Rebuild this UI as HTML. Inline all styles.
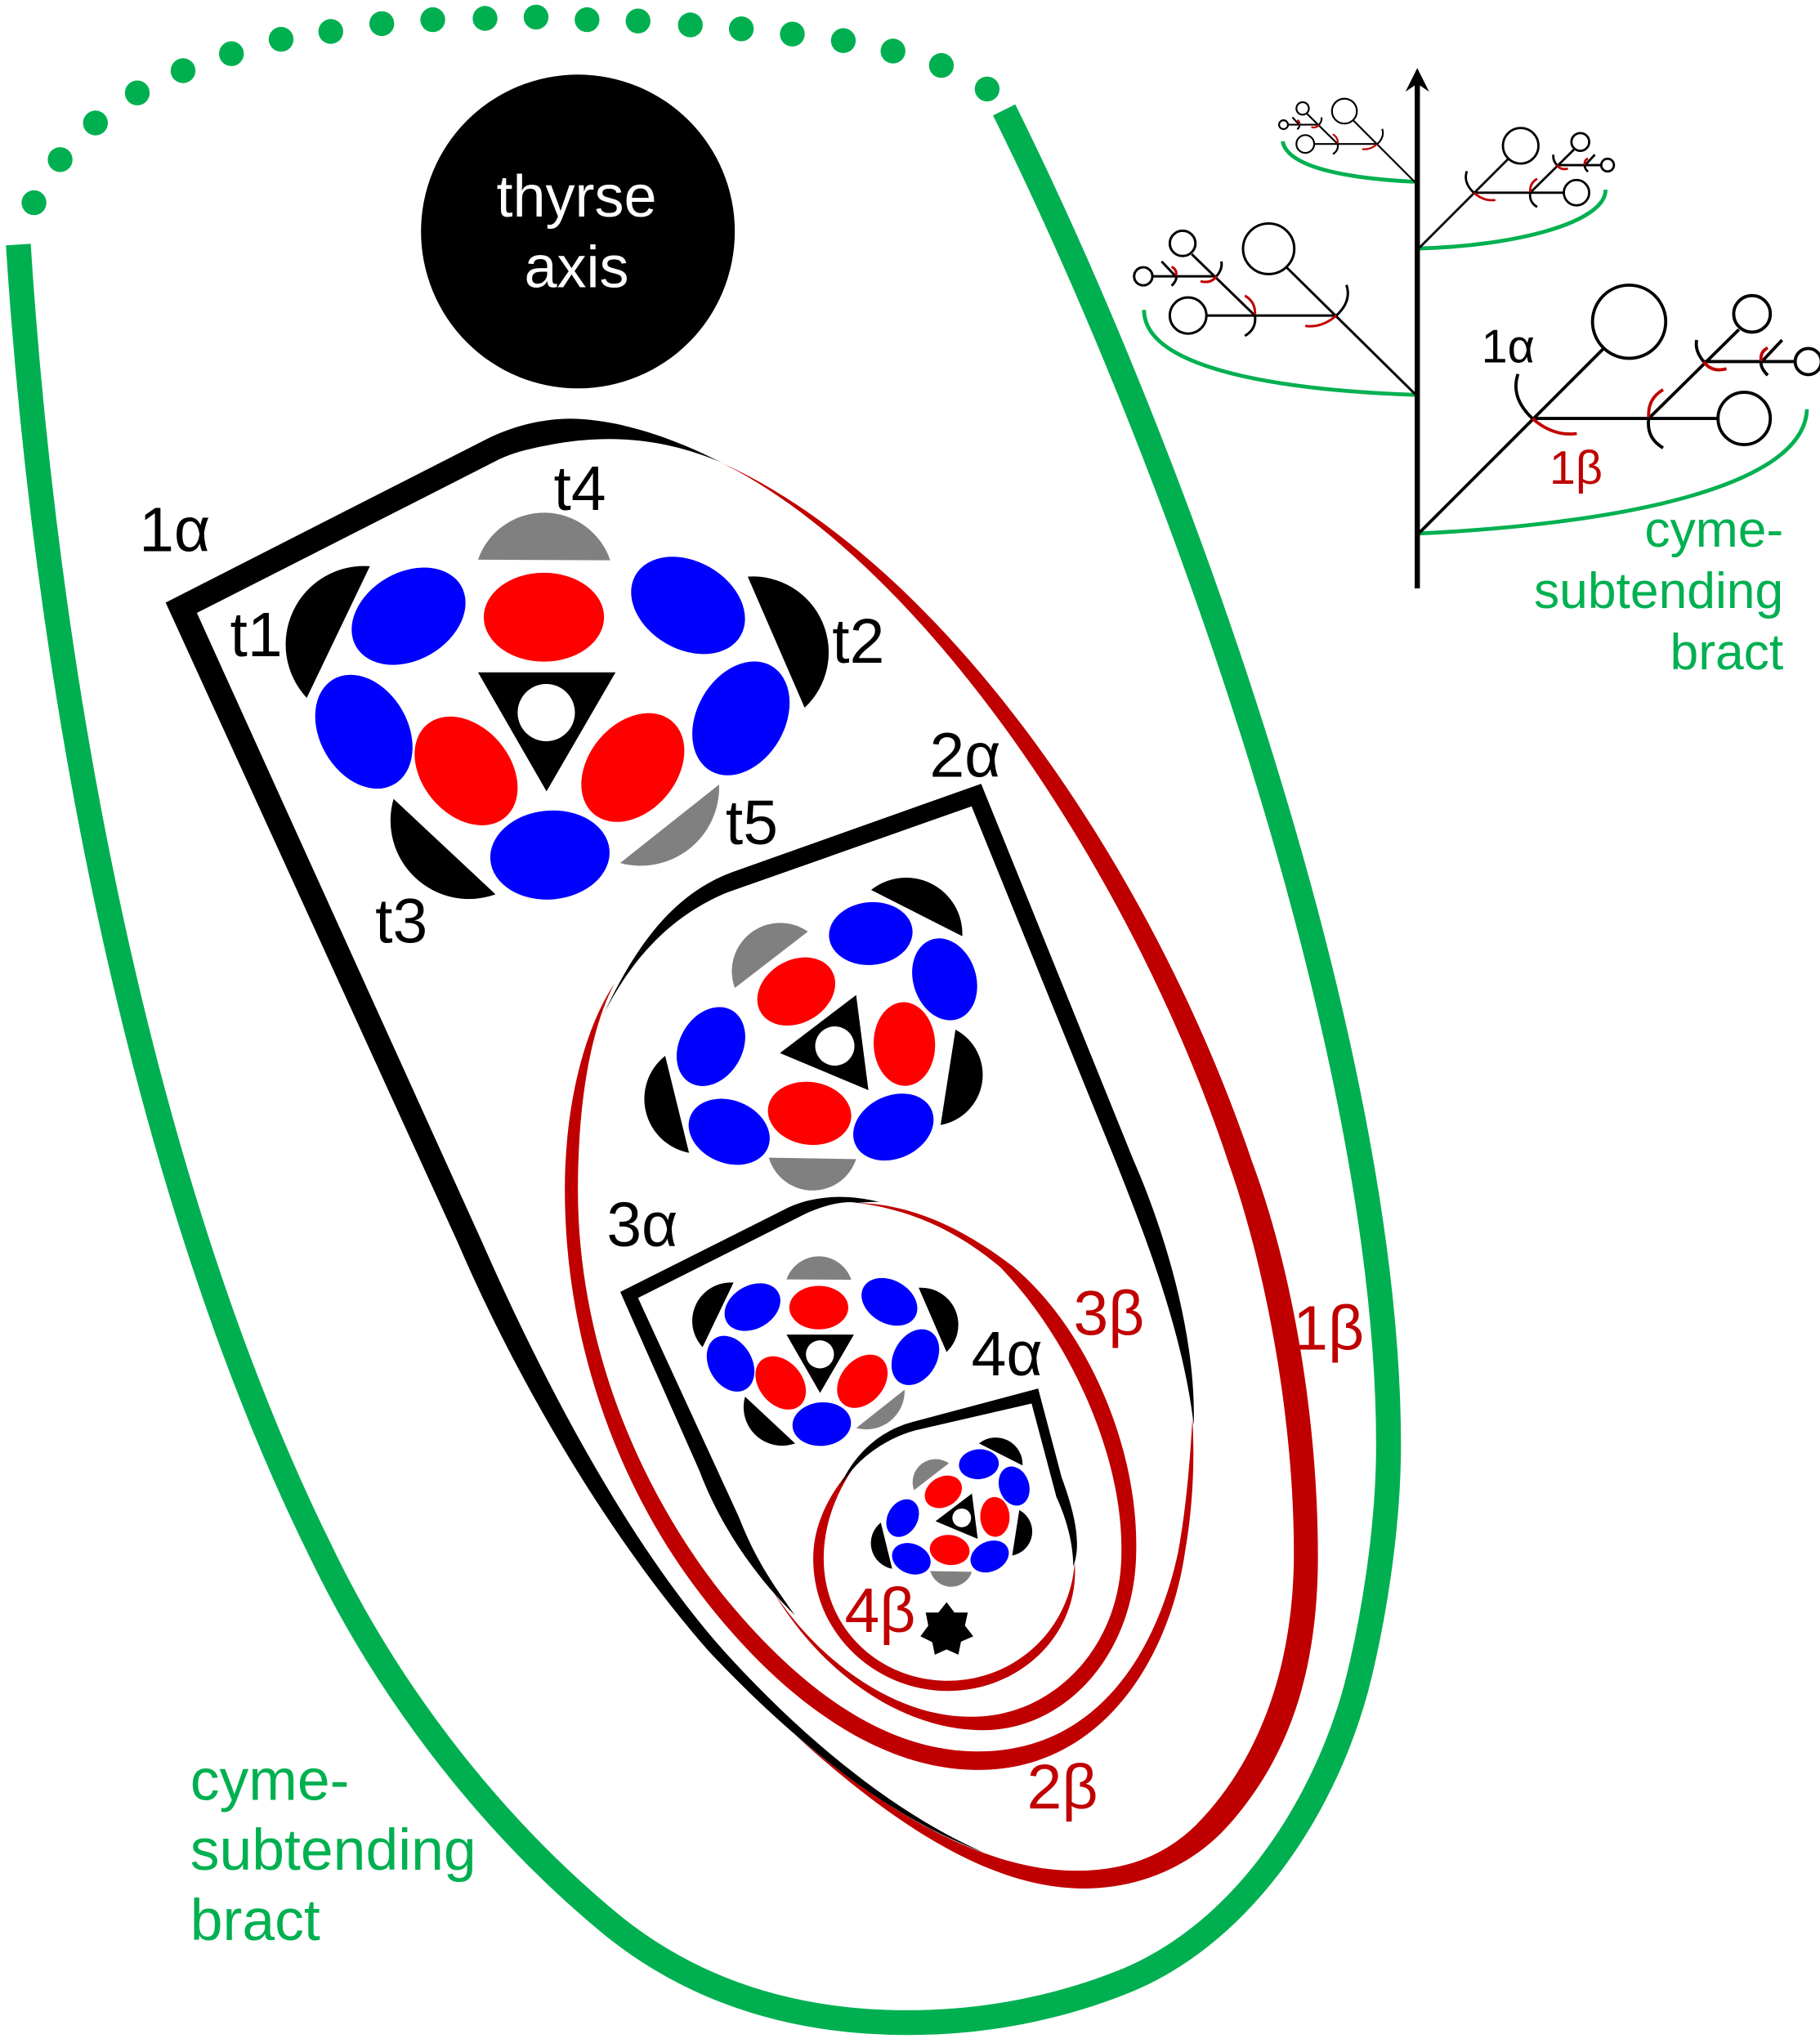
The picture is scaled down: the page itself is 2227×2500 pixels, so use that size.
<!DOCTYPE html>
<html><head><meta charset="utf-8"><style>
html,body{margin:0;padding:0;background:#fff}
svg{display:block}
text{font-family:"Liberation Sans",sans-serif}
</style></head><body>
<svg xmlns="http://www.w3.org/2000/svg" width="2227" height="2500" viewBox="0 0 1392 1562.5">
<rect width="1392" height="1562.5" fill="#fff"/>
<defs>
<g id="fa">
<path d="M282.900,433 A60,60 0 0 0 234.600,533.750Z" fill="#000"/>
<path d="M571.900,441 A58,58 0 0 1 615.400,541.250Z" fill="#000"/>
<path d="M301,611 A60,60 0 0 0 379,684Z" fill="#000"/>
<path d="M365.600,428 A53.400,53.400 0 0 1 466.700,428.500Z" fill="#808080"/>
<path d="M474.300,660 A60,60 0 0 0 550,600Z" fill="#808080"/>
<ellipse cx="416" cy="472" rx="46" ry="34" fill="#f00"/>
<ellipse cx="356.500" cy="589.600" rx="46.400" ry="33.600" transform="rotate(50 356.500 589.600)" fill="#f00"/>
<ellipse cx="484" cy="587" rx="46.400" ry="33.600" transform="rotate(-50 484 587)" fill="#f00"/>
<ellipse cx="312.500" cy="471.250" rx="46.400" ry="33.600" transform="rotate(-30 312.500 471.250)" fill="#00f"/>
<ellipse cx="526.250" cy="463" rx="46.400" ry="33.600" transform="rotate(30 526.250 463)" fill="#00f"/>
<ellipse cx="278.300" cy="559.600" rx="46.400" ry="33.600" transform="rotate(60 278.300 559.600)" fill="#00f"/>
<ellipse cx="566.700" cy="549.400" rx="46.400" ry="33.600" transform="rotate(-60 566.700 549.400)" fill="#00f"/>
<ellipse cx="420.600" cy="653.900" rx="45.700" ry="34" transform="rotate(-5 420.600 653.900)" fill="#00f"/>
<polygon points="365.600,514.200 470.800,514.200 418,605.200" fill="#000"/>
<circle cx="417.800" cy="545" r="21.900" fill="#fff"/>
</g>
<g id="fb">
<path d="M666.250,680.600 A43,43 0 0 1 736,716Z" fill="#000"/>
<path d="M508.750,807.500 A42,42 0 0 0 527,881.700Z" fill="#000"/>
<path d="M730.800,787.500 A39,39 0 0 1 719.400,860.400Z" fill="#000"/>
<path d="M617.900,712.500 A37,37 0 0 0 562,755.600Z" fill="#808080"/>
<path d="M654.800,886.500 A35,35 0 0 1 588,885.400Z" fill="#808080"/>
<ellipse cx="609" cy="758.300" rx="31.500" ry="24" transform="rotate(-30 609 758.300)" fill="#f00"/>
<ellipse cx="691.700" cy="798.500" rx="32" ry="23.500" transform="rotate(88 691.700 798.500)" fill="#f00"/>
<ellipse cx="619.200" cy="851.500" rx="32" ry="24" transform="rotate(8 619.200 851.500)" fill="#f00"/>
<ellipse cx="666" cy="714" rx="32" ry="24" transform="rotate(-5 666 714)" fill="#00f"/>
<ellipse cx="722.500" cy="749" rx="32" ry="24" transform="rotate(72 722.500 749)" fill="#00f"/>
<ellipse cx="543.750" cy="800.400" rx="32" ry="24" transform="rotate(-60 543.750 800.400)" fill="#00f"/>
<ellipse cx="557.700" cy="865.600" rx="32" ry="24" transform="rotate(22 557.700 865.600)" fill="#00f"/>
<ellipse cx="683.300" cy="862" rx="32" ry="24" transform="rotate(-25 683.300 862)" fill="#00f"/>
<polygon points="654.800,761 664.200,833.750 596.500,805.400" fill="#000"/>
<circle cx="638.500" cy="800" r="15" fill="#fff"/>
</g>
<g id="br" fill="none">
<g stroke="#000">
<line x1="0" y1="0" x2="141" y2="-141"/>
<circle cx="161" cy="-162" r="28"/>
<line x1="87" y1="-88" x2="229" y2="-88"/>
<circle cx="249" cy="-88" r="20"/>
<line x1="176" y1="-88" x2="245" y2="-156"/>
<circle cx="255" cy="-168" r="14"/>
<line x1="218" y1="-131.500" x2="288" y2="-131.500"/>
<circle cx="298" cy="-131.500" r="10"/>
<line x1="263" y1="-132" x2="278" y2="-148"/>
<path d="M76,-122 Q70,-104 87,-88"/>
<path d="M176,-88 Q174,-73 187,-65.500"/>
<path d="M212.700,-148 Q211,-140 218,-131.500"/>
<path d="M262,-132 Q261,-127 267,-121"/>
</g>
<g stroke="#c00000">
<path d="M87,-88 Q103,-74 121,-76.500"/>
<path d="M176,-89 Q175,-103 187,-110"/>
<path d="M218,-131.500 Q224,-123 235.500,-126"/>
<path d="M262,-132 Q261,-139 267,-142"/>
</g>
</g>
</defs>

<!-- green bract -->
<path d="M14,187 C38,560 118,930 245.800,1187.500 C300,1300 380,1400 468.750,1472.900 C540,1530 620,1547 694,1547 C755,1547 810,1535 856,1517 C945,1483 1010,1390 1037,1292 C1050,1242 1062,1170 1062,1105 C1062,800 900,350 768,84" fill="none" stroke="#00b050" stroke-width="19"/>
<g fill="#00b050">
<circle cx="26" cy="155" r="9.500"/><circle cx="46" cy="122" r="9.500"/><circle cx="73" cy="94" r="9.500"/><circle cx="105" cy="71" r="9.500"/><circle cx="140" cy="54" r="9.500"/><circle cx="177" cy="41" r="9.500"/><circle cx="215" cy="30" r="9.500"/><circle cx="253" cy="24" r="9.500"/><circle cx="292" cy="18" r="9.500"/><circle cx="331" cy="15" r="9.500"/><circle cx="371" cy="14" r="9.500"/><circle cx="410" cy="13" r="9.500"/><circle cx="449" cy="15" r="9.500"/><circle cx="488" cy="16" r="9.500"/><circle cx="528" cy="19" r="9.500"/><circle cx="567" cy="22" r="9.500"/><circle cx="606" cy="26" r="9.500"/><circle cx="645" cy="31" r="9.500"/><circle cx="683" cy="39" r="9.500"/><circle cx="720" cy="50" r="9.500"/><circle cx="755" cy="68" r="9.500"/>
</g>

<circle cx="442" cy="177" r="120" fill="#000"/>
<text x="441" y="165.500" font-size="45" fill="#fff" text-anchor="middle">thyrse</text>
<text x="441" y="219.500" font-size="45" fill="#fff" text-anchor="middle">axis</text>

<!-- red beta outlines -->
<path d="M552,354 C720,430 880,660 957.300,887.500 C990,975 1008,1090 1008,1190 C1008,1280 985,1345 939.600,1396 C912,1427 872,1444.400 829,1444.400 C755,1444.400 680,1392 608,1327 C680,1388 755,1430.800 823,1430.800 C860,1430.800 890,1420 914.600,1396 C960,1350 989.600,1280 989.600,1187.500 C989.600,1090 970,975 939,887.500 C865,665 705,430 552,354Z" fill="#c00000"/>
<path d="M470,752 C445,790 432,850 432,910 C432,1030 475,1140 535.400,1218.750 C595,1297 670,1353.750 748,1353.750 C845,1353.750 895,1265 906.250,1187.500 C912,1155 914,1120 912,1085 C910,1120 907,1155 901,1187.500 C885,1262 840,1339.600 748,1339.600 C675,1339.600 610,1290 552,1218.750 C490,1140 442,1030 442,910 C442,850 450,790 470,752Z" fill="#c00000"/>
<path d="M656,920 C700,921 740,942 775,968.750 C830,1015 871,1105 869,1187.500 C868,1265 815,1323.300 752,1323.300 C685,1323 625,1275 590,1215 C625,1270 685,1314 743.750,1313 C805,1313 857.700,1260 857.700,1187.500 C859,1110 815,1020 764.600,968.750 C730,940 695,925 656,920Z" fill="#c00000"/>
<path d="M656,1118 C635,1140 622,1165 622,1192 C622,1250 670,1293.300 725,1293.300 C780,1293.300 826,1250 822,1195 C818,1248 775,1285.500 725,1285.500 C672,1285.500 630,1245 630,1192 C630,1165 640,1140 656,1118Z" fill="#c00000"/>

<!-- black alpha outlines -->
<path d="M552,353.750 C515,335 475,321 437.500,320.200 C415,320 392,326 372.900,335.400 L126.700,460.800 L350,950 C395,1055 465,1175 541.700,1262.500 C610,1335 680,1390 752,1416.700 C680,1385 610,1325 553.500,1262.500 C480,1180 415,1055 368.750,950 L150.600,468.750 L382.300,351 C395,345 410,342 427,339 C470,332 510,336 552,353.750Z" fill="#000"/>
<path d="M462,775 C490,715 520,682 560,667 L750.400,599.400 L867,887.500 C890,940 915,1020 913,1090 C905,1020 876,945 853,887.500 L743.100,616.700 L555,683 C515,700 485,730 462,775Z" fill="#000"/>
<path d="M673,919.400 C655,915 637,914 620.800,917.700 C612,919.500 606,922 600,925 L474.400,988.100 L535,1125 C552,1170 580,1208 608,1235.400 C590,1210 578,1193 565,1160 L488,992.700 L616.700,928 C630,922 645,918 656,920 C662,919.500 668,919 673,919.400Z" fill="#000"/>
<path d="M642,1138 C650,1118 668,1095.500 698,1087.500 L794,1062 L812,1130 C825,1165 826,1185 820.800,1198 C821,1180 815,1160 808,1145 L789,1073.500 L700,1094 C678,1100 655,1115 642,1138Z" fill="#000"/>

<!-- flowers -->
<use href="#fa"/>
<use href="#fb"/>
<use href="#fa" transform="translate(422.400,768.800) scale(.49)"/>
<use href="#fb" transform="translate(431,779.300) scale(.477)"/>
<polygon points="724,1225.400 730,1233.300 740.200,1233.300 738,1243.300 744.400,1251.500 735,1255.600 733,1265.600 724,1261.500 715,1265.600 713,1256 704,1251.500 710,1243.300 708,1233.300 717.700,1233.300" fill="#000"/>

<!-- labels -->
<g font-size="48" fill="#000">
<text x="106.400" y="421.500">1α</text>
<text x="423.500" y="390">t4</text>
<text x="176" y="502">t1</text>
<text x="636.500" y="506.700">t2</text>
<text x="287" y="721">t3</text>
<text x="555" y="645.500">t5</text>
<text x="711" y="594">2α</text>
<text x="464" y="953">3α</text>
<text x="743" y="1052">4α</text>
</g>
<g font-size="48" fill="#c00000">
<text x="821" y="1021">3β</text>
<text x="989" y="1032.300">1β</text>
<text x="785.500" y="1383.300">2β</text>
<text x="646" y="1248.300">4β</text>
</g>
<g font-size="44.700" fill="#00b050">
<text x="145.500" y="1376.700">cyme-</text>
<text x="145.500" y="1430.200">subtending</text>
<text x="145.500" y="1483.750">bract</text>
</g>

<!-- schematic -->
<path d="M1085,408 C1250,400 1380,370 1382,313" fill="none" stroke="#00b050" stroke-width="3"/>
<path d="M1083,302 C970,298 875,280 875,237" fill="none" stroke="#00b050" stroke-width="3"/>
<path d="M1085,190 C1160,188 1228,170 1228,145" fill="none" stroke="#00b050" stroke-width="3"/>
<path d="M1083,139 C1040,137 985,130 981,108" fill="none" stroke="#00b050" stroke-width="3"/>
<use href="#br" transform="translate(1085,408)" stroke-width="2.400"/>
<use href="#br" transform="translate(1083,302) scale(-.7,.69)" stroke-width="2.700"/>
<use href="#br" transform="translate(1085,190) scale(.485)" stroke-width="3.600"/>
<use href="#br" transform="translate(1083,140) scale(-.34,.34)" stroke-width="4"/>
<line x1="1084" y1="62" x2="1084" y2="450" stroke="#000" stroke-width="4"/>
<polygon points="1084,52 1093,70 1084,64 1075,70" fill="#000"/>
<text x="1133" y="277" font-size="36" fill="#000">1α</text>
<text x="1185" y="370" font-size="36" fill="#c00000">1β</text>
<g font-size="39" fill="#00b050" text-anchor="end">
<text x="1364" y="418">cyme-</text>
<text x="1364" y="465">subtending</text>
<text x="1364" y="512">bract</text>
</g>
</svg>
</body></html>
